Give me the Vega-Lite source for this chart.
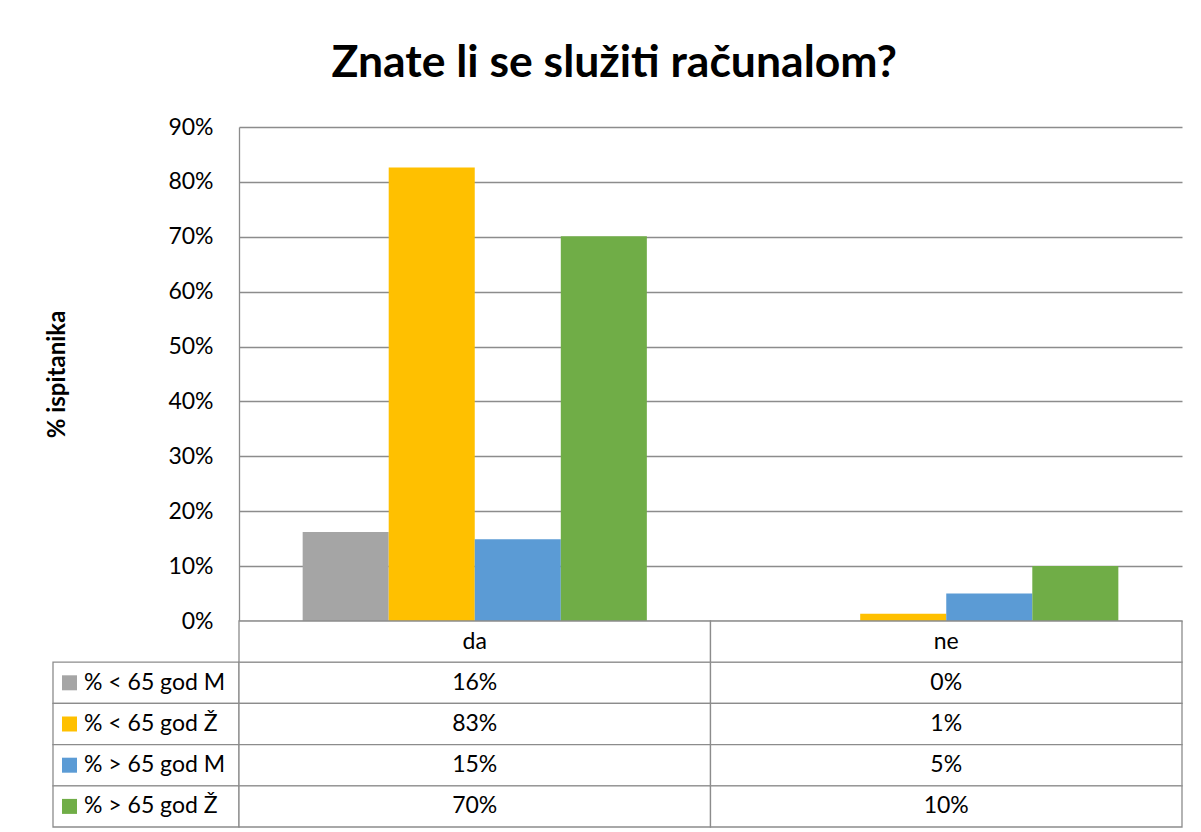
{
  "$schema": "https://vega.github.io/schema/vega-lite/v6.json",
  "background": "white",
  "padding": {"left": 45, "top": 40, "right": 10, "bottom": 5},
  "title": {"text": "Znate li se služiti računalom?", "font": "Lato", "fontSize": 44.5, "fontWeight": "bold", "color": "black", "anchor": "middle", "offset": 30},
  "datasets": {
    "postoci": [
      {"odgovor": "da", "skupina": "% < 65 god M", "postotak": 0.162},
      {"odgovor": "da", "skupina": "% < 65 god Ž", "postotak": 0.826},
      {"odgovor": "da", "skupina": "% > 65 god M", "postotak": 0.149},
      {"odgovor": "da", "skupina": "% > 65 god Ž", "postotak": 0.701},
      {"odgovor": "ne", "skupina": "% < 65 god M", "postotak": 0.0},
      {"odgovor": "ne", "skupina": "% < 65 god Ž", "postotak": 0.013},
      {"odgovor": "ne", "skupina": "% > 65 god M", "postotak": 0.05},
      {"odgovor": "ne", "skupina": "% > 65 god Ž", "postotak": 0.1}
    ]
  },
  "columns": 2,
  "spacing": 0,
  "bounds": "flush",
  "align": "each",
  "concat": [
    {
      "width": 186, "height": 494,
      "data": {"name": "postoci"},
      "mark": {"type": "text", "opacity": 0},
      "encoding": {}
    },
    {
      "width": 943, "height": 494,
      "data": {"name": "postoci"},
      "mark": {"type": "bar"},
      "encoding": {
        "x": {"field": "odgovor", "type": "nominal", "scale": {"domain": ["da", "ne"], "paddingInner": 0.27, "paddingOuter": 0.135}, "axis": null},
        "xOffset": {"field": "skupina", "type": "nominal", "scale": {"domain": ["% < 65 god M", "% < 65 god Ž", "% > 65 god M", "% > 65 god Ž"], "paddingInner": 0, "paddingOuter": 0}},
        "y": {"field": "postotak", "type": "quantitative", "scale": {"domain": [0, 0.9]},
          "axis": {"values": [0, 0.1, 0.2, 0.3, 0.4, 0.5, 0.6, 0.7, 0.8, 0.9], "format": ".0%", "grid": true, "gridColor": "#8c8c8c", "gridWidth": 1.3, "domainColor": "#8c8c8c", "domainWidth": 1.3, "ticks": false, "labelFont": "Lato", "labelFontSize": 23, "labelColor": "black", "labelPadding": 26, "title": "% ispitanika", "titleFont": "Lato", "titleFontSize": 24, "titleFontWeight": "bold", "titleColor": "black", "titlePadding": 98}},
        "color": {"field": "skupina", "type": "nominal", "scale": {"domain": ["% < 65 god M", "% < 65 god Ž", "% > 65 god M", "% > 65 god Ž"], "range": ["#A5A5A5", "#FFC000", "#5B9BD5", "#70AD47"]}, "legend": null}
      }
    },
    {
      "width": 186, "height": 206,
      "data": {"name": "postoci"},
      "transform": [{"filter": "datum.odgovor == 'da'"}],
      "encoding": {
        "y": {"field": "skupina", "type": "nominal", "scale": {"type": "band", "domain": ["odgovor", "% < 65 god M", "% < 65 god Ž", "% > 65 god M", "% > 65 god Ž"], "paddingInner": 0, "paddingOuter": 0}, "axis": null}
      },
      "layer": [
        {"mark": {"type": "rect", "fill": "white", "stroke": "#8c8c8c", "strokeWidth": 1.3}},
        {"mark": {"type": "point", "shape": "square", "filled": true, "size": 225, "opacity": 1},
         "encoding": {
           "x": {"datum": "swatch", "type": "nominal", "scale": {"type": "point", "domain": ["swatch", "label"], "range": [16.5, 31], "padding": 0}, "axis": null},
           "color": {"field": "skupina", "type": "nominal", "scale": {"domain": ["% < 65 god M", "% < 65 god Ž", "% > 65 god M", "% > 65 god Ž"], "range": ["#A5A5A5", "#FFC000", "#5B9BD5", "#70AD47"]}, "legend": null}
         }},
        {"mark": {"type": "text", "align": "left", "baseline": "middle", "font": "Lato", "fontSize": 23, "color": "black"},
         "encoding": {
           "x": {"datum": "label", "type": "nominal", "scale": {"type": "point", "domain": ["swatch", "label"], "range": [16.5, 31], "padding": 0}, "axis": null},
           "text": {"field": "skupina"}
         }}
      ]
    },
    {
      "width": 943, "height": 206,
      "data": {"name": "postoci"},
      "encoding": {
        "x": {"field": "odgovor", "type": "nominal", "scale": {"type": "band", "domain": ["da", "ne"], "paddingInner": 0, "paddingOuter": 0}, "axis": null}
      },
      "layer": [
        {"mark": {"type": "rect", "fill": "white", "stroke": "#8c8c8c", "strokeWidth": 1.3},
         "encoding": {"y": {"field": "skupina", "type": "nominal", "scale": {"type": "band", "domain": ["odgovor", "% < 65 god M", "% < 65 god Ž", "% > 65 god M", "% > 65 god Ž"], "paddingInner": 0, "paddingOuter": 0}, "axis": null}}},
        {"transform": [{"filter": "datum.skupina == '% < 65 god M'"}],
         "mark": {"type": "rect", "fill": "white", "stroke": "#8c8c8c", "strokeWidth": 1.3},
         "encoding": {"y": {"datum": "odgovor", "type": "nominal"}}},
        {"mark": {"type": "text", "font": "Lato", "fontSize": 23, "color": "black", "baseline": "middle"},
         "encoding": {"y": {"field": "skupina", "type": "nominal"}, "text": {"field": "postotak", "type": "quantitative", "format": ".0%"}}},
        {"transform": [{"filter": "datum.skupina == '% < 65 god M'"}],
         "mark": {"type": "text", "font": "Lato", "fontSize": 23, "color": "black", "baseline": "middle"},
         "encoding": {"y": {"datum": "odgovor", "type": "nominal"}, "text": {"field": "odgovor"}}}
      ]
    }
  ],
  "config": {
    "view": {"stroke": null},
    "font": "Lato"
  }
}
